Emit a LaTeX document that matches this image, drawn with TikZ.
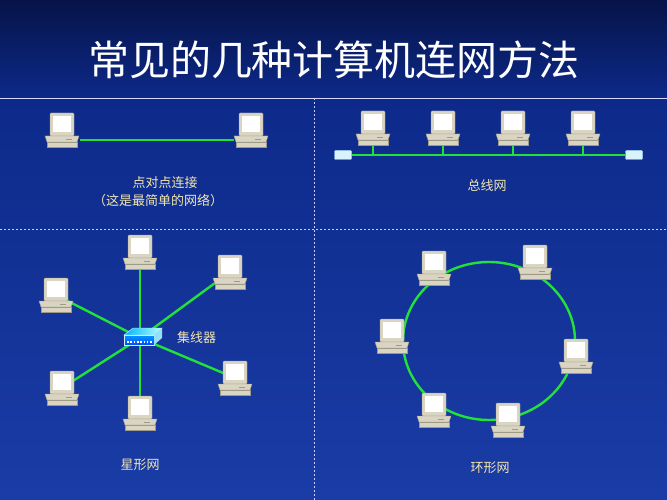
\documentclass[tikz,border=0pt]{standalone}
\usepackage{fontspec}
\newfontfamily\cjk{Noto Sans CJK SC}
\usetikzlibrary{shadings}
\definecolor{bgA}{HTML}{1A3CA6}
\definecolor{bgB}{HTML}{0D2A8A}
\definecolor{topc}{HTML}{08185A}
\definecolor{beige}{HTML}{D9D5C2}
\definecolor{beiged}{HTML}{9E9A88}
\definecolor{lbl}{HTML}{F2E6B0}
\definecolor{net}{HTML}{22E23A}
\tikzset{
 x=1pt,y=-1pt,
 lbltext/.style={text=lbl,font=\cjk\fontsize{13}{16}\selectfont,inner sep=0pt},
 link/.style={net,line width=2.4pt},
 divider/.style={white!80!blue,line width=0.6pt,dash pattern=on 2pt off 2pt},
 pc/.pic={
  \fill[beige,draw=beiged,line width=0.4pt,rounded corners=1pt] (-12,-17) rectangle (12,6);
  \fill[white] (-9,-14) rectangle (9,2);
  \fill[beige,draw=beiged,line width=0.4pt] (-17,6) -- (17,6) -- (15,12) -- (-15,12) -- cycle;
  \fill[beige,draw=beiged,line width=0.4pt] (-15,12) rectangle (15,17);
  \draw[beiged,line width=0.5pt] (4,9) -- (10,9);
 },
 term/.style={fill=cyan!15,draw=cyan!40,rounded corners=1pt,minimum width=17pt,minimum height=9pt,inner sep=0pt}
}
\begin{document}
\begin{tikzpicture}
\useasboundingbox (0,0) rectangle (667,500);
\shade[top color=bgB,bottom color=bgA] (0,98) rectangle (667,500);
\shade[top color=topc!80!black,bottom color=bgB] (0,0) rectangle (667,98);
\node[text=white,font=\cjk\fontsize{41}{46}\selectfont] (title) at (334,60) {常见的几种计算机连网方法};
\draw[white!85!blue,line width=0.8pt] (0,98) -- (667,98);
\draw[divider] (314,98) -- (314,500);
\draw[divider] (0,229) -- (667,229);
% point to point
\coordinate (p1) at (62,130); \coordinate (p2) at (251,130);
\draw[link] (80,140) -- (234,140);
\pic at (p1) {pc}; \pic at (p2) {pc};
\node[lbltext] (l1) at (165,183) {点对点连接};
\node[lbltext] (l2) at (158,201) {（这是最简单的网络）};
% bus
\node[term] (t1) at (343,155) {};
\node[term] (t2) at (634,155) {};
\draw[link] (t1) -- (t2);
\foreach \x/\n in {373/b1,443/b2,513/b3,583/b4}{
  \coordinate (\n) at (\x,128);
  \draw[link] (\x,140) -- (\x,155);
  \pic at (\n) {pc};
}
\node[lbltext] (l3) at (487,186) {总线网};
% star
\coordinate (hub) at (140,338);
\foreach \n/\x/\y in {s1/140/252,s2/230/272,s3/56/295,s4/235/378,s5/62/388,s6/140/413}{
  \coordinate (\n) at (\x,\y);
  \draw[link] (hub) -- (\n);
}
\foreach \n in {s1,s2,s3,s4,s5,s6}{\pic at (\n) {pc};}
\shade[left color=cyan!70!blue,right color=cyan!30,draw=cyan!20] (124,335) -- (133,328) -- (162,328) -- (154,335) -- cycle;
\shade[top color=cyan!60!blue,bottom color=blue!70!cyan,draw=cyan!20] (124,335) rectangle (154,345);
\fill[cyan!40] (154,335) -- (162,328) -- (162,338) -- (154,345) -- cycle;
\foreach \i in {0,...,7}{\fill[white] (127+3.3*\i,341) rectangle ++(1.6,2);}
\node[lbltext,anchor=west] (hl) at (177,338) {集线器};
\node[lbltext] (l4) at (140,465) {星形网};
% ring
\draw[link] (489,341) ellipse [x radius=86, y radius=79];
\foreach \n/\x/\y in {r1/434/268,r2/535/262,r3/392/336,r4/576/356,r5/434/410,r6/508/420}{
  \coordinate (\n) at (\x,\y);
  \pic at (\n) {pc};
}
\node[lbltext] (l5) at (490,468) {环形网};
\end{tikzpicture}
\end{document}
